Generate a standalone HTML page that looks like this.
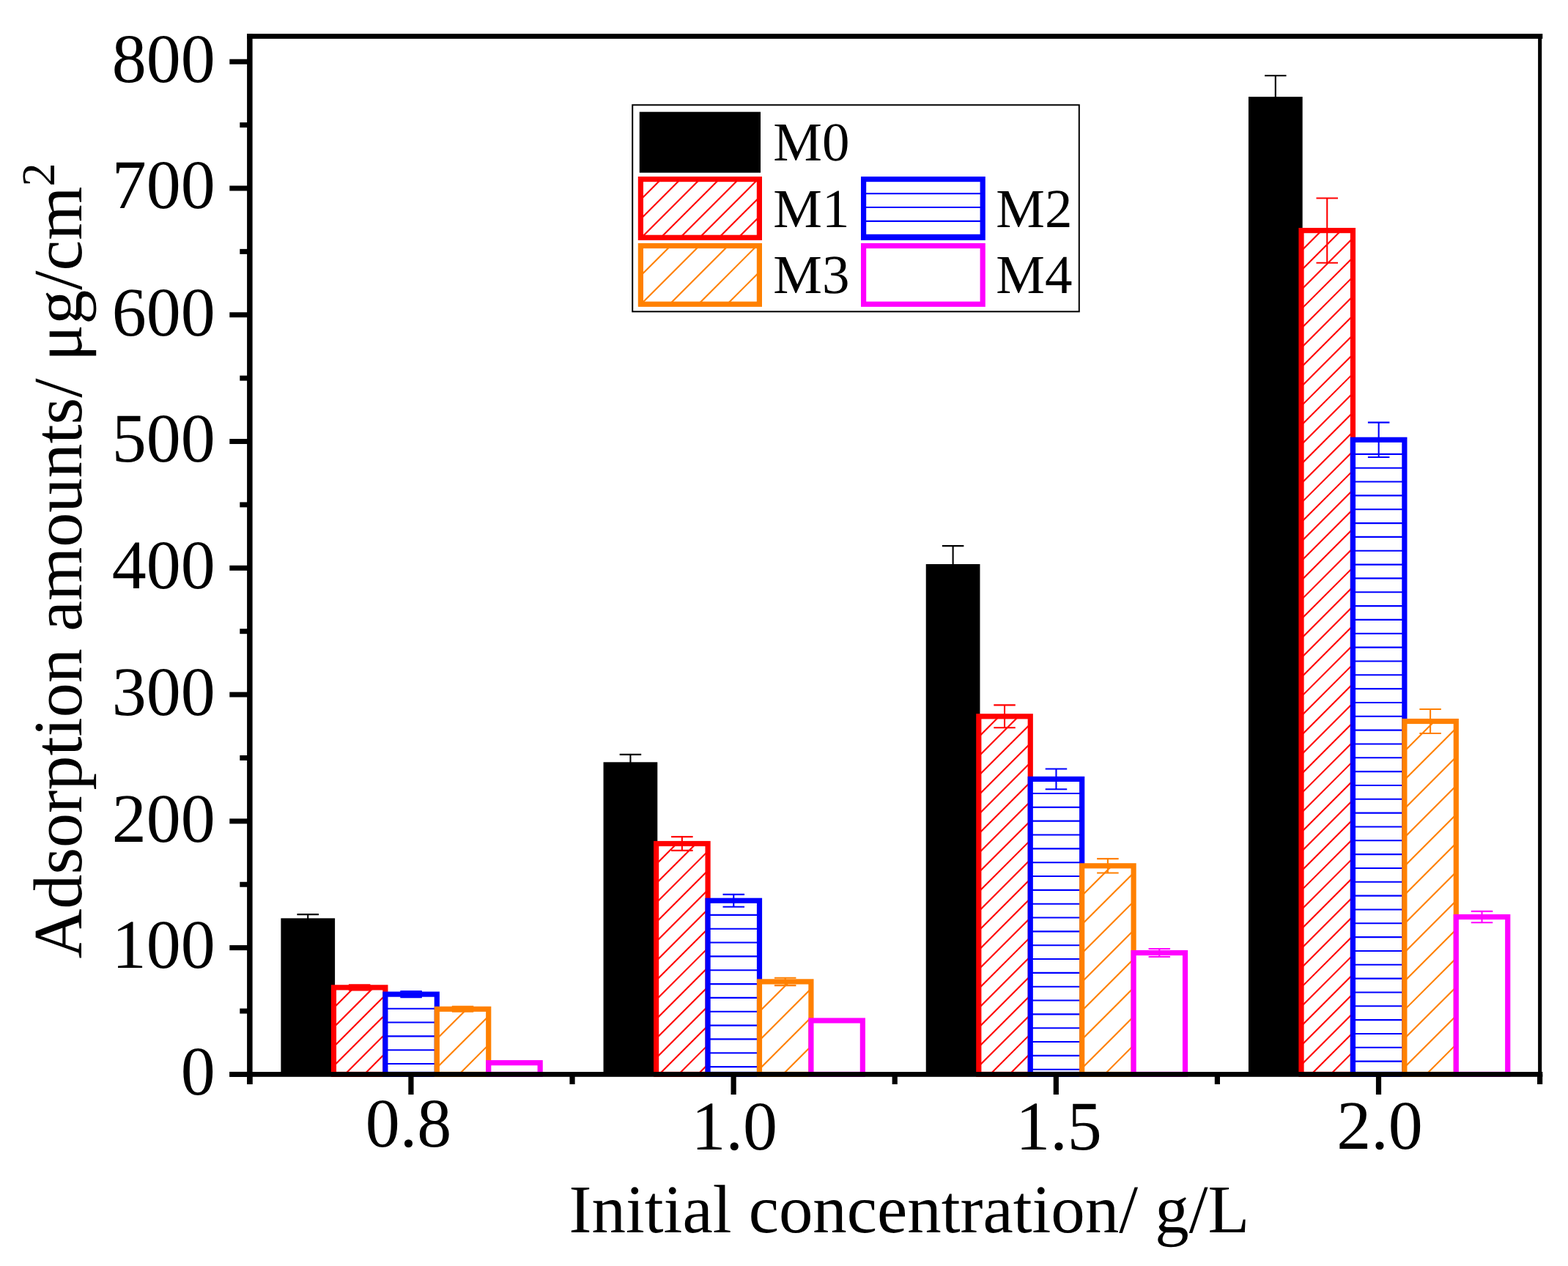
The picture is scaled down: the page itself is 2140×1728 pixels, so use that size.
<!DOCTYPE html>
<html lang="en"><head><meta charset="utf-8"><title>Adsorption amounts vs initial concentration</title><style>html,body{margin:0;padding:0;background:#fff}body{width:2140px;height:1728px;overflow:hidden}text{text-rendering:geometricPrecision}svg{display:block}</style></head><body>
<svg width="2140" height="1728" viewBox="0 0 2140 1728" role="img" aria-label="Grouped bar chart of adsorption amounts versus initial concentration" font-family="'Liberation Serif', 'Times New Roman', serif" fill="#000"><rect x="383.37" y="1253.35" width="73.73" height="214.7" fill="#000"/>
<rect x="823.56" y="1040.3" width="73.73" height="427.75" fill="#000"/>
<rect x="1263.74" y="770" width="73.73" height="698.05" fill="#000"/>
<rect x="1703.93" y="132.1" width="73.73" height="1335.95" fill="#000"/>
<path d="M420.23 1248.1V1261.9M405.48 1248.1H434.98M405.48 1261.9H434.98" stroke="#000000" stroke-width="2.1" fill="none"/>
<path d="M860.42 1029.9V1054M845.67 1029.9H875.17M845.67 1054H875.17" stroke="#000000" stroke-width="2.1" fill="none"/>
<path d="M1300.61 745.1V798.2M1285.86 745.1H1315.36M1285.86 798.2H1315.36" stroke="#000000" stroke-width="2.1" fill="none"/>
<path d="M1740.8 103.2V164.3M1726.05 103.2H1755.55M1726.05 164.3H1755.55" stroke="#000000" stroke-width="2.1" fill="none"/>
<rect x="455.45" y="1347.85" width="70.43" height="118.55" fill="#fff"/><path d="M455.45 1349.3L456.9 1347.85M455.45 1375.75L483.35 1347.85M455.45 1402.2L509.8 1347.85M455.45 1428.65L525.88 1358.22M455.45 1455.1L525.88 1384.67M470.6 1466.4L525.88 1411.12M497.05 1466.4L525.88 1437.57M523.5 1466.4L525.88 1464.02" stroke="#ff0000" stroke-width="2.1" fill="none"/><rect x="455.45" y="1347.85" width="70.43" height="118.55" fill="none" stroke="#ff0000" stroke-width="7.2"/>
<rect x="895.64" y="1151.5" width="70.43" height="314.9" fill="#fff"/><path d="M895.64 1152.95L897.09 1151.5M895.64 1179.4L923.54 1151.5M895.64 1205.85L949.99 1151.5M895.64 1232.3L966.07 1161.87M895.64 1258.75L966.07 1188.32M895.64 1285.2L966.07 1214.77M895.64 1311.65L966.07 1241.22M895.64 1338.1L966.07 1267.67M895.64 1364.55L966.07 1294.12M895.64 1391L966.07 1320.57M895.64 1417.45L966.07 1347.02M895.64 1443.9L966.07 1373.47M899.59 1466.4L966.07 1399.92M926.04 1466.4L966.07 1426.37M952.49 1466.4L966.07 1452.82" stroke="#ff0000" stroke-width="2.1" fill="none"/><rect x="895.64" y="1151.5" width="70.43" height="314.9" fill="none" stroke="#ff0000" stroke-width="7.2"/>
<rect x="1335.82" y="977.8" width="70.43" height="488.6" fill="#fff"/><path d="M1335.82 979.25L1337.27 977.8M1335.82 1005.7L1363.72 977.8M1335.82 1032.15L1390.17 977.8M1335.82 1058.6L1406.25 988.17M1335.82 1085.05L1406.25 1014.62M1335.82 1111.5L1406.25 1041.07M1335.82 1137.95L1406.25 1067.52M1335.82 1164.4L1406.25 1093.97M1335.82 1190.85L1406.25 1120.42M1335.82 1217.3L1406.25 1146.87M1335.82 1243.75L1406.25 1173.32M1335.82 1270.2L1406.25 1199.77M1335.82 1296.65L1406.25 1226.22M1335.82 1323.1L1406.25 1252.67M1335.82 1349.55L1406.25 1279.12M1335.82 1376L1406.25 1305.57M1335.82 1402.45L1406.25 1332.02M1335.82 1428.9L1406.25 1358.47M1335.82 1455.35L1406.25 1384.92M1351.22 1466.4L1406.25 1411.37M1377.67 1466.4L1406.25 1437.82M1404.12 1466.4L1406.25 1464.27" stroke="#ff0000" stroke-width="2.1" fill="none"/><rect x="1335.82" y="977.8" width="70.43" height="488.6" fill="none" stroke="#ff0000" stroke-width="7.2"/>
<rect x="1776.01" y="314.6" width="70.43" height="1151.8" fill="#fff"/><path d="M1776.01 316.05L1777.46 314.6M1776.01 342.5L1803.91 314.6M1776.01 368.95L1830.36 314.6M1776.01 395.4L1846.44 324.97M1776.01 421.85L1846.44 351.42M1776.01 448.3L1846.44 377.87M1776.01 474.75L1846.44 404.32M1776.01 501.2L1846.44 430.77M1776.01 527.65L1846.44 457.22M1776.01 554.1L1846.44 483.67M1776.01 580.55L1846.44 510.12M1776.01 607L1846.44 536.57M1776.01 633.45L1846.44 563.02M1776.01 659.9L1846.44 589.47M1776.01 686.35L1846.44 615.92M1776.01 712.8L1846.44 642.37M1776.01 739.25L1846.44 668.82M1776.01 765.7L1846.44 695.27M1776.01 792.15L1846.44 721.72M1776.01 818.6L1846.44 748.17M1776.01 845.05L1846.44 774.62M1776.01 871.5L1846.44 801.07M1776.01 897.95L1846.44 827.52M1776.01 924.4L1846.44 853.97M1776.01 950.85L1846.44 880.42M1776.01 977.3L1846.44 906.87M1776.01 1003.75L1846.44 933.32M1776.01 1030.2L1846.44 959.77M1776.01 1056.65L1846.44 986.22M1776.01 1083.1L1846.44 1012.67M1776.01 1109.55L1846.44 1039.12M1776.01 1136L1846.44 1065.57M1776.01 1162.45L1846.44 1092.02M1776.01 1188.9L1846.44 1118.47M1776.01 1215.35L1846.44 1144.92M1776.01 1241.8L1846.44 1171.37M1776.01 1268.25L1846.44 1197.82M1776.01 1294.7L1846.44 1224.27M1776.01 1321.15L1846.44 1250.72M1776.01 1347.6L1846.44 1277.17M1776.01 1374.05L1846.44 1303.62M1776.01 1400.5L1846.44 1330.07M1776.01 1426.95L1846.44 1356.52M1776.01 1453.4L1846.44 1382.97M1789.46 1466.4L1846.44 1409.42M1815.91 1466.4L1846.44 1435.87M1842.36 1466.4L1846.44 1462.32" stroke="#ff0000" stroke-width="2.1" fill="none"/><rect x="1776.01" y="314.6" width="70.43" height="1151.8" fill="none" stroke="#ff0000" stroke-width="7.2"/>
<path d="M490.66 1344.25V1351.45M475.91 1344.25H505.41M475.91 1351.45H505.41" stroke="#ff0000" stroke-width="2.1" fill="none"/>
<path d="M930.85 1142.1V1160.9M916.1 1142.1H945.6M916.1 1160.9H945.6" stroke="#ff0000" stroke-width="2.1" fill="none"/>
<path d="M1371.04 962.4V993.2M1356.29 962.4H1385.79M1356.29 993.2H1385.79" stroke="#ff0000" stroke-width="2.1" fill="none"/>
<path d="M1811.23 270.45V358.75M1796.48 270.45H1825.98M1796.48 358.75H1825.98" stroke="#ff0000" stroke-width="2.1" fill="none"/>
<rect x="525.88" y="1357.1" width="70.43" height="109.3" fill="#fff"/><path d="M525.88 1376.7H596.31M525.88 1395.53H596.31M525.88 1414.37H596.31M525.88 1433.2H596.31M525.88 1452.04H596.31" stroke="#0000ff" stroke-width="2.1" fill="none"/><rect x="525.88" y="1357.1" width="70.43" height="109.3" fill="none" stroke="#0000ff" stroke-width="7.2"/>
<rect x="966.07" y="1229.3" width="70.43" height="237.1" fill="#fff"/><path d="M966.07 1248.9H1036.5M966.07 1267.73H1036.5M966.07 1286.57H1036.5M966.07 1305.4H1036.5M966.07 1324.24H1036.5M966.07 1343.08H1036.5M966.07 1361.91H1036.5M966.07 1380.75H1036.5M966.07 1399.58H1036.5M966.07 1418.42H1036.5M966.07 1437.25H1036.5M966.07 1456.09H1036.5" stroke="#0000ff" stroke-width="2.1" fill="none"/><rect x="966.07" y="1229.3" width="70.43" height="237.1" fill="none" stroke="#0000ff" stroke-width="7.2"/>
<rect x="1406.25" y="1063.4" width="70.43" height="403" fill="#fff"/><path d="M1406.25 1083H1476.68M1406.25 1101.84H1476.68M1406.25 1120.67H1476.68M1406.25 1139.51H1476.68M1406.25 1158.34H1476.68M1406.25 1177.18H1476.68M1406.25 1196.01H1476.68M1406.25 1214.85H1476.68M1406.25 1233.68H1476.68M1406.25 1252.52H1476.68M1406.25 1271.35H1476.68M1406.25 1290.19H1476.68M1406.25 1309.02H1476.68M1406.25 1327.86H1476.68M1406.25 1346.69H1476.68M1406.25 1365.53H1476.68M1406.25 1384.36H1476.68M1406.25 1403.2H1476.68M1406.25 1422.03H1476.68M1406.25 1440.87H1476.68M1406.25 1459.7H1476.68" stroke="#0000ff" stroke-width="2.1" fill="none"/><rect x="1406.25" y="1063.4" width="70.43" height="403" fill="none" stroke="#0000ff" stroke-width="7.2"/>
<rect x="1846.44" y="600.3" width="70.43" height="866.1" fill="#fff"/><path d="M1846.44 619.9H1916.87M1846.44 638.74H1916.87M1846.44 657.57H1916.87M1846.44 676.41H1916.87M1846.44 695.24H1916.87M1846.44 714.08H1916.87M1846.44 732.91H1916.87M1846.44 751.75H1916.87M1846.44 770.58H1916.87M1846.44 789.42H1916.87M1846.44 808.25H1916.87M1846.44 827.09H1916.87M1846.44 845.92H1916.87M1846.44 864.76H1916.87M1846.44 883.59H1916.87M1846.44 902.43H1916.87M1846.44 921.26H1916.87M1846.44 940.1H1916.87M1846.44 958.93H1916.87M1846.44 977.77H1916.87M1846.44 996.6H1916.87M1846.44 1015.44H1916.87M1846.44 1034.27H1916.87M1846.44 1053.11H1916.87M1846.44 1071.94H1916.87M1846.44 1090.78H1916.87M1846.44 1109.61H1916.87M1846.44 1128.45H1916.87M1846.44 1147.28H1916.87M1846.44 1166.12H1916.87M1846.44 1184.95H1916.87M1846.44 1203.79H1916.87M1846.44 1222.62H1916.87M1846.44 1241.46H1916.87M1846.44 1260.29H1916.87M1846.44 1279.13H1916.87M1846.44 1297.96H1916.87M1846.44 1316.8H1916.87M1846.44 1335.63H1916.87M1846.44 1354.47H1916.87M1846.44 1373.3H1916.87M1846.44 1392.14H1916.87M1846.44 1410.97H1916.87M1846.44 1429.81H1916.87M1846.44 1448.64H1916.87" stroke="#0000ff" stroke-width="2.1" fill="none"/><rect x="1846.44" y="600.3" width="70.43" height="866.1" fill="none" stroke="#0000ff" stroke-width="7.2"/>
<path d="M561.09 1353.1V1361.1M546.34 1353.1H575.84M546.34 1361.1H575.84" stroke="#0000ff" stroke-width="2.1" fill="none"/>
<path d="M1001.28 1220.9V1237.7M986.53 1220.9H1016.03M986.53 1237.7H1016.03" stroke="#0000ff" stroke-width="2.1" fill="none"/>
<path d="M1441.47 1049.55V1077.25M1426.72 1049.55H1456.22M1426.72 1077.25H1456.22" stroke="#0000ff" stroke-width="2.1" fill="none"/>
<path d="M1881.66 576.65V623.95M1866.91 576.65H1896.41M1866.91 623.95H1896.41" stroke="#0000ff" stroke-width="2.1" fill="none"/>
<rect x="596.31" y="1377.3" width="70.43" height="89.1" fill="#fff"/><path d="M596.31 1378.87L597.88 1377.3M596.31 1418.1L637.11 1377.3M596.31 1457.33L666.74 1386.9M626.47 1466.4L666.74 1426.13M665.7 1466.4L666.74 1465.36" stroke="#ff8000" stroke-width="2.1" fill="none"/><rect x="596.31" y="1377.3" width="70.43" height="89.1" fill="none" stroke="#ff8000" stroke-width="7.2"/>
<rect x="1036.5" y="1339.9" width="70.43" height="126.5" fill="#fff"/><path d="M1036.5 1341.47L1038.07 1339.9M1036.5 1380.7L1077.3 1339.9M1036.5 1419.93L1106.93 1349.5M1036.5 1459.16L1106.93 1388.73M1068.49 1466.4L1106.93 1427.96" stroke="#ff8000" stroke-width="2.1" fill="none"/><rect x="1036.5" y="1339.9" width="70.43" height="126.5" fill="none" stroke="#ff8000" stroke-width="7.2"/>
<rect x="1476.68" y="1181.8" width="70.43" height="284.6" fill="#fff"/><path d="M1476.68 1183.37L1478.25 1181.8M1476.68 1222.6L1517.48 1181.8M1476.68 1261.83L1547.11 1191.4M1476.68 1301.06L1547.11 1230.63M1476.68 1340.29L1547.11 1269.86M1476.68 1379.52L1547.11 1309.09M1476.68 1418.75L1547.11 1348.32M1476.68 1457.98L1547.11 1387.55M1507.49 1466.4L1547.11 1426.78" stroke="#ff8000" stroke-width="2.1" fill="none"/><rect x="1476.68" y="1181.8" width="70.43" height="284.6" fill="none" stroke="#ff8000" stroke-width="7.2"/>
<rect x="1916.87" y="984.5" width="70.43" height="481.9" fill="#fff"/><path d="M1916.87 986.07L1918.44 984.5M1916.87 1025.3L1957.67 984.5M1916.87 1064.53L1987.3 994.1M1916.87 1103.76L1987.3 1033.33M1916.87 1142.99L1987.3 1072.56M1916.87 1182.22L1987.3 1111.79M1916.87 1221.45L1987.3 1151.02M1916.87 1260.68L1987.3 1190.25M1916.87 1299.91L1987.3 1229.48M1916.87 1339.14L1987.3 1268.71M1916.87 1378.37L1987.3 1307.94M1916.87 1417.6L1987.3 1347.17M1916.87 1456.83L1987.3 1386.4M1946.53 1466.4L1987.3 1425.63M1985.76 1466.4L1987.3 1464.86" stroke="#ff8000" stroke-width="2.1" fill="none"/><rect x="1916.87" y="984.5" width="70.43" height="481.9" fill="none" stroke="#ff8000" stroke-width="7.2"/>
<path d="M631.52 1373.8V1380.8M616.77 1373.8H646.27M616.77 1380.8H646.27" stroke="#ff8000" stroke-width="2.1" fill="none"/>
<path d="M1071.71 1334.7V1345.1M1056.96 1334.7H1086.46M1056.96 1345.1H1086.46" stroke="#ff8000" stroke-width="2.1" fill="none"/>
<path d="M1511.9 1172.1V1191.5M1497.15 1172.1H1526.65M1497.15 1191.5H1526.65" stroke="#ff8000" stroke-width="2.1" fill="none"/>
<path d="M1952.09 968.05V1000.95M1937.34 968.05H1966.84M1937.34 1000.95H1966.84" stroke="#ff8000" stroke-width="2.1" fill="none"/>
<rect x="666.74" y="1450.65" width="70.43" height="15.75" fill="#fff"/><rect x="666.74" y="1450.65" width="70.43" height="15.75" fill="none" stroke="#ff00ff" stroke-width="7.2"/>
<rect x="1106.93" y="1393" width="70.43" height="73.4" fill="#fff"/><rect x="1106.93" y="1393" width="70.43" height="73.4" fill="none" stroke="#ff00ff" stroke-width="7.2"/>
<rect x="1547.11" y="1300.55" width="70.43" height="165.85" fill="#fff"/><rect x="1547.11" y="1300.55" width="70.43" height="165.85" fill="none" stroke="#ff00ff" stroke-width="7.2"/>
<rect x="1987.3" y="1251.55" width="70.43" height="214.85" fill="#fff"/><rect x="1987.3" y="1251.55" width="70.43" height="214.85" fill="none" stroke="#ff00ff" stroke-width="7.2"/>


<path d="M1582.33 1295.05V1306.05M1567.58 1295.05H1597.08M1567.58 1306.05H1597.08" stroke="#ff00ff" stroke-width="2.1" fill="none"/>
<path d="M2022.52 1243.85V1259.25M2007.77 1243.85H2037.27M2007.77 1259.25H2037.27" stroke="#ff00ff" stroke-width="2.1" fill="none"/>
<g fill="#000"><rect x="313.3" y="1463" width="1792" height="6.8"/><rect x="337.1" y="46.1" width="1768.2" height="6.8"/><rect x="337.1" y="46.1" width="7.5" height="1433.8"/><rect x="2099.1" y="49.5" width="5.1" height="1416.9"/><rect x="313.3" y="1462.9" width="27.55" height="7"/><rect x="327.3" y="1376.51" width="13.55" height="7"/><rect x="313.3" y="1290.12" width="27.55" height="7"/><rect x="327.3" y="1203.74" width="13.55" height="7"/><rect x="313.3" y="1117.35" width="27.55" height="7"/><rect x="327.3" y="1030.96" width="13.55" height="7"/><rect x="313.3" y="944.58" width="27.55" height="7"/><rect x="327.3" y="858.19" width="13.55" height="7"/><rect x="313.3" y="771.8" width="27.55" height="7"/><rect x="327.3" y="685.41" width="13.55" height="7"/><rect x="313.3" y="599.03" width="27.55" height="7"/><rect x="327.3" y="512.64" width="13.55" height="7"/><rect x="313.3" y="426.25" width="27.55" height="7"/><rect x="327.3" y="339.86" width="13.55" height="7"/><rect x="313.3" y="253.48" width="27.55" height="7"/><rect x="327.3" y="167.09" width="13.55" height="7"/><rect x="313.3" y="80.7" width="27.55" height="7"/><rect x="337.25" y="1466.4" width="7.2" height="13.5"/><rect x="557.34" y="1466.4" width="7.2" height="27.6"/><rect x="777.44" y="1466.4" width="7.2" height="13.5"/><rect x="997.53" y="1466.4" width="7.2" height="27.6"/><rect x="1217.62" y="1466.4" width="7.2" height="13.5"/><rect x="1437.72" y="1466.4" width="7.2" height="27.6"/><rect x="1657.81" y="1466.4" width="7.2" height="13.5"/><rect x="1877.91" y="1466.4" width="7.2" height="27.6"/><rect x="2098" y="1466.4" width="7.2" height="13.5"/></g>
<text transform="translate(293.8 1494.3) scale(1.0000 1.0100)" font-size="94" text-anchor="end">0</text>
<text transform="translate(293.8 1320.53) scale(1.0000 1.0100)" font-size="94" text-anchor="end">100</text>
<text transform="translate(293.8 1148.75) scale(1.0000 1.0100)" font-size="94" text-anchor="end">200</text>
<text transform="translate(293.8 975.98) scale(1.0000 1.0100)" font-size="94" text-anchor="end">300</text>
<text transform="translate(293.8 803.2) scale(1.0000 1.0100)" font-size="94" text-anchor="end">400</text>
<text transform="translate(293.8 630.43) scale(1.0000 1.0100)" font-size="94" text-anchor="end">500</text>
<text transform="translate(293.8 457.65) scale(1.0000 1.0100)" font-size="94" text-anchor="end">600</text>
<text transform="translate(293.8 284.18) scale(1.0000 1.0100)" font-size="94" text-anchor="end">700</text>
<text transform="translate(293.8 112.1) scale(1.0000 1.0100)" font-size="94" text-anchor="end">800</text>
<text transform="translate(557.54 1565.4) scale(1.0000 1.0100)" font-size="94" text-anchor="middle">0.8</text>
<text transform="translate(1002.23 1568.9) scale(1.0000 1.0100)" font-size="94" text-anchor="middle">1.0</text>
<text transform="translate(1445.12 1568.5) scale(1.0000 1.0100)" font-size="94" text-anchor="middle">1.5</text>
<text transform="translate(1882.91 1568.3) scale(1.0000 1.0100)" font-size="94" text-anchor="middle">2.0</text>
<text transform="translate(776.6 1681.5) scale(1.0000 1.0040)" font-size="92.9">Initial concentration/ g/L</text>
<text transform="translate(111.1 1308.6) rotate(-90) scale(1.0000 1.0040)" font-size="94.1">Adsorption amounts/ μg/cm<tspan font-size="64" dy="-37.1">2</tspan></text>
<rect x="863.2" y="143.3" width="609.6" height="282" fill="#fff" stroke="#000" stroke-width="2"/><rect x="872.75" y="152.7" width="165.3" height="83" fill="#000"/><rect x="874.4" y="244.6" width="162" height="79.7" fill="#fff"/><path d="M874.4 246.05L875.85 244.6M874.4 272.5L902.3 244.6M874.4 298.95L928.75 244.6M875.5 324.3L955.2 244.6M901.95 324.3L981.65 244.6M928.4 324.3L1008.1 244.6M954.85 324.3L1034.55 244.6M981.3 324.3L1036.4 269.2M1007.75 324.3L1036.4 295.65M1034.2 324.3L1036.4 322.1" stroke="#ff0000" stroke-width="2.1" fill="none"/><rect x="874.4" y="244.6" width="162" height="79.7" fill="none" stroke="#ff0000" stroke-width="7.2"/><rect x="1178.6" y="244.6" width="162.6" height="79.7" fill="#fff"/><path d="M1178.6 264.2H1341.2M1178.6 283.03H1341.2M1178.6 301.87H1341.2M1178.6 320.7H1341.2" stroke="#0000ff" stroke-width="2.1" fill="none"/><rect x="1178.6" y="244.6" width="162.6" height="79.7" fill="none" stroke="#0000ff" stroke-width="7.2"/><rect x="874.4" y="335.5" width="162" height="79.7" fill="#fff"/><path d="M874.4 337.07L875.97 335.5M874.4 376.3L915.2 335.5M874.73 415.2L954.43 335.5M913.96 415.2L993.66 335.5M953.19 415.2L1032.89 335.5M992.42 415.2L1036.4 371.22M1031.65 415.2L1036.4 410.45" stroke="#ff8000" stroke-width="2.1" fill="none"/><rect x="874.4" y="335.5" width="162" height="79.7" fill="none" stroke="#ff8000" stroke-width="7.2"/><rect x="1178.6" y="335.5" width="162.6" height="79.7" fill="#fff"/><rect x="1178.6" y="335.5" width="162.6" height="79.7" fill="none" stroke="#ff00ff" stroke-width="7.2"/><text transform="translate(1055.3 219)" font-size="75">M0</text><text transform="translate(1055.3 309.5)" font-size="75">M1</text><text transform="translate(1359.3 309.5)" font-size="75">M2</text><text transform="translate(1055.3 400)" font-size="75">M3</text><text transform="translate(1359.3 400)" font-size="75">M4</text></svg>
</body></html>
